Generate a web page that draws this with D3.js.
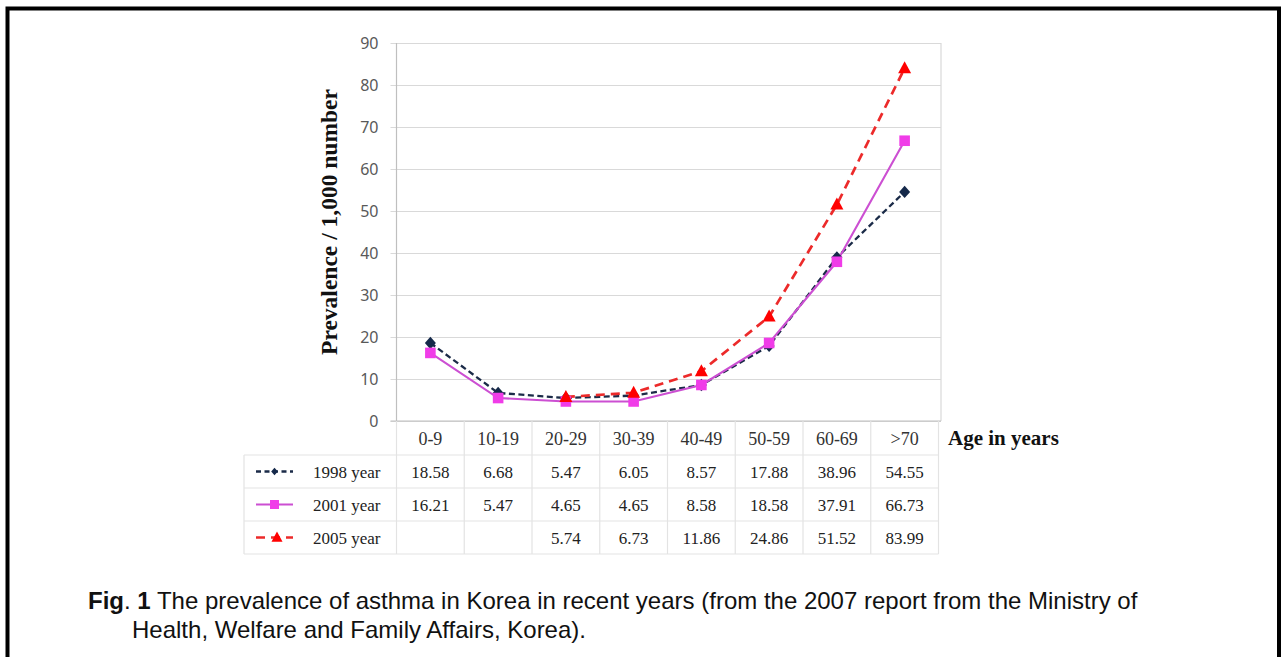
<!DOCTYPE html>
<html>
<head>
<meta charset="utf-8">
<script src="https://cdn.jsdelivr.net/npm/d3@7"></script>
<style>
  html, body { margin: 0; padding: 0; background: #fff; }
  svg { display: block; }
</style>
</head>
<body>
<svg id="chart" width="1281" height="657"></svg>
<script>
const categories = ["0-9", "10-19", "20-29", "30-39", "40-49", "50-59", "60-69", ">70"];
const seriesNames = ["1998 year", "2001 year", "2005 year"];
const values1998 = [18.58, 6.68, 5.47, 6.05, 8.57, 17.88, 38.96, 54.55];
const values2001 = [16.21, 5.47, 4.65, 4.65, 8.58, 18.58, 37.91, 66.73];
const values2005 = [null, null, 5.74, 6.73, 11.86, 24.86, 51.52, 83.99];
const yTicks = [0, 10, 20, 30, 40, 50, 60, 70, 80, 90];
const yTitle = "Prevalence / 1,000 number";
const xTitle = "Age in years";

(function () {
const svg = d3.select("#chart");

svg.append("rect").attr("x", 7.5).attr("y", 8.5).attr("width", 1271.5).attr("height", 700)
  .attr("fill", "none").attr("stroke", "#000").attr("stroke-width", 4);

const pLeft = 396.5, pRight = 938.5, pTop = 43, pBottom = 421;
const x = d3.scaleBand().domain(categories).range([pLeft, pRight]);
const y = d3.scaleLinear().domain([0, 90]).range([pBottom, pTop]);

const yAxis = d3.axisLeft(y).tickValues(yTicks).tickSizeInner(-(941 - pLeft)).tickSizeOuter(0).tickPadding(18);
const gy = svg.append("g").attr("transform", `translate(${pLeft},0)`).call(yAxis);
gy.select(".domain").remove();
gy.selectAll(".tick line").attr("x1", -6).attr("stroke", "#d9d9d9").attr("stroke-width", 1.2);
gy.selectAll(".tick text").attr("fill", "#595959").style("font-family", "'Noto Sans', sans-serif").style("font-size", "16px");
svg.append("line").attr("x1", 941).attr("x2", 941).attr("y1", y(90)).attr("y2", y(0))
  .attr("stroke", "#d9d9d9").attr("stroke-width", 1.2);
svg.append("line").attr("x1", pLeft - 6).attr("x2", 941).attr("y1", y(0)).attr("y2", y(0))
  .attr("stroke", "#bfbfbf").attr("stroke-width", 1.2);
svg.append("line").attr("x1", pLeft).attr("x2", pLeft).attr("y1", y(90)).attr("y2", y(0))
  .attr("stroke", "#bfbfbf").attr("stroke-width", 1.2);

const rowH = 33;
const headTop = pBottom, headBot = 455;
const tableBot = headBot + rowH * 3;
const tableLeft = 244;
const tg = svg.append("g");
const gridColor = "#e3e3e3";
const bounds = categories.map(c => x(c)).concat([pRight]);
bounds.forEach(b => {
  tg.append("line").attr("x1", b).attr("x2", b).attr("y1", headTop).attr("y2", tableBot)
    .attr("stroke", gridColor).attr("stroke-width", 1.2);
});
tg.append("line").attr("x1", tableLeft).attr("x2", tableLeft).attr("y1", headBot).attr("y2", tableBot)
  .attr("stroke", gridColor).attr("stroke-width", 1.2);
for (let r = 0; r <= 3; r++) {
  tg.append("line").attr("x1", tableLeft).attr("x2", pRight).attr("y1", headBot + r * rowH).attr("y2", headBot + r * rowH)
    .attr("stroke", gridColor).attr("stroke-width", 1.2);
}
tg.selectAll("text.cat").data(categories).enter().append("text")
  .attr("x", d => x(d) + x.bandwidth() / 2).attr("y", 444.5)
  .attr("text-anchor", "middle").attr("fill", "#333")
  .style("font-family", "'Liberation Serif', 'Times New Roman', serif").style("font-size", "18px")
  .text(d => d);

svg.append("text").attr("x", 948).attr("y", 444.5)
  .style("font-family", "'Liberation Serif', 'Times New Roman', serif").style("font-size", "21px")
  .style("font-weight", "bold").attr("fill", "#111").text(xTitle);

svg.append("text").attr("transform", `translate(337,222) rotate(-90)`)
  .attr("text-anchor", "middle")
  .style("font-family", "'Liberation Serif', 'Times New Roman', serif").style("font-size", "23.5px")
  .style("font-weight", "bold").attr("fill", "#111").text(yTitle);

const diamond = { draw(ctx) { const w = 5.5, h = 6.2; ctx.moveTo(0, -h); ctx.lineTo(w, 0); ctx.lineTo(0, h); ctx.lineTo(-w, 0); ctx.closePath(); } };
const square = { draw(ctx) { const h = 5.3; ctx.moveTo(-h, -h); ctx.lineTo(h, -h); ctx.lineTo(h, h); ctx.lineTo(-h, h); ctx.closePath(); } };
const triangle = { draw(ctx) { ctx.moveTo(0, -7); ctx.lineTo(6.5, 5); ctx.lineTo(-6.5, 5); ctx.closePath(); } };

const series = [
  { name: seriesNames[0], values: values1998, line: "#1b2b48", marker: "#15294a", dash: "6,3.5", width: 2.3, sym: diamond },
  { name: seriesNames[1], values: values2001, line: "#cc4fd2", marker: "#f03ce8", dash: null, width: 2.1, sym: square },
  { name: seriesNames[2], values: values2005, line: "#ec2a2a", marker: "#ff0000", dash: "9,6", width: 2.7, sym: triangle }
];

const cx = c => x(c) + x.bandwidth() / 2;
const lineGen = d3.line().defined(d => d.v != null).x(d => cx(d.c)).y(d => y(d.v));

series.forEach(s => {
  const pts = categories.map((c, i) => ({ c, v: s.values[i] }));
  svg.append("path").datum(pts).attr("d", lineGen).attr("fill", "none")
    .attr("stroke", s.line).attr("stroke-width", s.width)
    .attr("stroke-dasharray", s.dash);
});
series.forEach(s => {
  const pts = categories.map((c, i) => ({ c, v: s.values[i] })).filter(d => d.v != null);
  svg.append("g").selectAll("path").data(pts).enter().append("path")
    .attr("d", d3.symbol().type(s.sym))
    .attr("transform", d => `translate(${cx(d.c)},${y(d.v)})`)
    .attr("fill", s.marker);
});

series.forEach((s, r) => {
  const yc = headBot + r * rowH + rowH / 2;
  svg.append("line").attr("x1", 256).attr("x2", 293).attr("y1", yc).attr("y2", yc)
    .attr("stroke", s.line).attr("stroke-width", s.width)
    .attr("stroke-dasharray", r === 0 ? "5,3.5" : (r === 2 ? "9,6" : null));
  svg.append("path").attr("d", d3.symbol().type(s.sym))
    .attr("transform", `translate(${r === 2 ? 277 : 274.5},${yc}) scale(${r === 0 ? 0.6 : 0.85})`)
    .attr("fill", s.marker);
  svg.append("text").attr("x", 313).attr("y", yc + 6)
    .style("font-family", "'Liberation Serif', 'Times New Roman', serif").style("font-size", "17px")
    .attr("fill", "#222").text(s.name);
  s.values.forEach((v, i) => {
    if (v == null) return;
    svg.append("text").attr("x", cx(categories[i])).attr("y", yc + 6)
      .attr("text-anchor", "middle")
      .style("font-family", "'Liberation Serif', 'Times New Roman', serif").style("font-size", "17px")
      .attr("fill", "#222").text(v.toFixed(2));
  });
});

const cap = svg.append("g").style("font-family", "'Liberation Sans', Arial, sans-serif").style("font-size", "24px").attr("fill", "#111");
const t1 = cap.append("text").attr("x", 88).attr("y", 609);
t1.append("tspan").style("font-weight", "bold").text("Fig");
t1.append("tspan").text(". ");
t1.append("tspan").style("font-weight", "bold").text("1");
t1.append("tspan").text("  The prevalence of asthma in Korea in recent years (from the 2007 report from the Ministry of");
cap.append("text").attr("x", 132).attr("y", 638).text("Health, Welfare and Family Affairs, Korea).");
})();
</script>
</body>
</html>
